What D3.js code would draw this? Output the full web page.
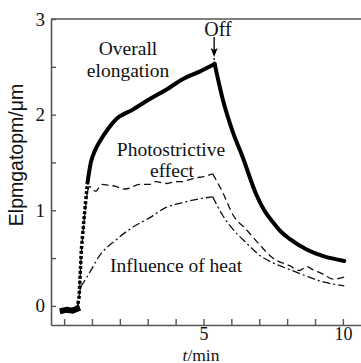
<!DOCTYPE html>
<html>
<head>
<meta charset="utf-8">
<script src="https://cdn.jsdelivr.net/npm/d3@7"></script>
<style>
  html, body { margin: 0; padding: 0; background: #fff; }
  svg { display: block; }
  .serif { font-family: "Liberation Serif", "Times New Roman", serif; fill: #111; }
</style>
</head>
<body>
<svg id="chart" width="361" height="363"></svg>
<script>
// Elongation (µm) versus time (min): overall response, photostrictive part and heat part.
const overallT = [-0.05, 0.1, 0.3, 0.47, 0.54, 0.62, 0.72, 0.84, 0.96, 1.1, 1.3, 1.6, 1.86, 2.45, 3.06, 3.66, 4.25, 4.86, 5.4, 5.7, 6.05, 6.4, 6.9, 7.2, 7.48, 7.8, 8.09, 8.7, 9.3, 10.05];
const overallV = [-0.05, -0.04, -0.05, -0.03, 0.1, 0.59, 0.93, 1.29, 1.5, 1.62, 1.73, 1.86, 1.95, 2.05, 2.16, 2.26, 2.37, 2.45, 2.53, 2.15, 1.82, 1.56, 1.16, 0.99, 0.88, 0.77, 0.7, 0.59, 0.52, 0.47];

const photoT = [0.47, 0.54, 0.62, 0.72, 0.84, 0.92, 1.0, 1.12, 1.37, 1.6, 1.86, 2.1, 2.34, 2.7, 3.06, 3.3, 3.66, 4.0, 4.25, 4.5, 4.74, 4.97, 5.33, 5.7, 6.06, 6.53, 7.01, 7.49, 8.09, 8.45, 8.7, 8.92, 9.3, 9.65, 10.05];
const photoV = [-0.03, 0.1, 0.55, 0.9, 1.2, 1.25, 1.22, 1.2, 1.27, 1.26, 1.25, 1.22, 1.23, 1.27, 1.27, 1.3, 1.28, 1.3, 1.3, 1.32, 1.34, 1.35, 1.38, 1.18, 0.95, 0.8, 0.64, 0.5, 0.42, 0.37, 0.41, 0.38, 0.33, 0.28, 0.30];

const heatT = [0.47, 0.54, 0.6, 0.9, 1.26, 1.86, 2.45, 3.06, 3.66, 4.25, 4.86, 5.33, 5.7, 6.06, 6.53, 7.01, 7.49, 8.09, 8.7, 9.3, 10.05];
const heatV = [-0.03, 0.12, 0.2, 0.34, 0.52, 0.69, 0.82, 0.92, 1.03, 1.08, 1.12, 1.14, 0.94, 0.8, 0.66, 0.53, 0.45, 0.38, 0.31, 0.25, 0.21];

const xTicks = [0, 1, 2, 3, 4, 5, 6, 7, 8, 9, 10];
const xTickLabels = { 5: "5", 10: "10" };
const yTicks = [0, 0.5, 1, 1.5, 2, 2.5, 3];
const yTickLabels = { 0: "0", 1: "1", 2: "2", 3: "3" };
const offTime = 5.4;

const svg = d3.select("#chart");
const x = d3.scaleLinear().domain([-0.47, 10.65]).range([51, 361]);
const y = d3.scaleLinear().domain([-0.2, 3]).range([325, 19]);

const axisColor = "#555";

// axes with inward ticks
const gx = svg.append("g").attr("transform", `translate(0,${y(-0.2)})`)
  .call(d3.axisBottom(x).tickValues(xTicks).tickSizeInner(-6).tickSizeOuter(0).tickPadding(2.5)
    .tickFormat(d => xTickLabels[d] || ""));
const gy = svg.append("g").attr("transform", `translate(${x(-0.47)},0)`)
  .call(d3.axisLeft(y).tickValues(yTicks).tickSizeInner(-5).tickSizeOuter(0).tickPadding(6)
    .tickFormat(d => yTickLabels[d] || ""));
[gx, gy].forEach(g => {
  g.select(".domain").attr("stroke", axisColor).attr("stroke-width", 1.6);
  g.selectAll(".tick line").attr("stroke", axisColor).attr("stroke-width", 1.4);
  g.selectAll(".tick text").attr("class", "serif").attr("fill", "#111");
});
gx.selectAll(".tick text").attr("font-size", 18);
gy.selectAll(".tick text").attr("font-size", 19);
// top frame line
svg.append("line").attr("x1", x(-0.47)).attr("x2", x(10.65)).attr("y1", y(3)).attr("y2", y(3))
  .attr("stroke", axisColor).attr("stroke-width", 1.6);

// draw a series piece by piece (split at given times) so the switch-off peak stays sharp
function pieces(ts, vs, cuts) {
  const idx = d3.range(ts.length);
  const bounds = [-Infinity, ...cuts, Infinity];
  const out = [];
  for (let k = 0; k < bounds.length - 1; k++) {
    out.push(idx.filter(i => ts[i] >= bounds[k] && ts[i] <= bounds[k + 1]));
  }
  return out;
}
const pathOf = (ts, vs, ids, curve) =>
  d3.line().curve(curve).x(i => x(ts[i])).y(i => y(vs[i]))(ids);

// heat contribution (dash-dot)
pieces(heatT, heatV, [0.6, 5.33]).forEach(ids => {
  svg.append("path").attr("d", pathOf(heatT, heatV, ids, d3.curveMonotoneX)).attr("fill", "none")
    .attr("stroke", "#111").attr("stroke-width", 1.3).attr("stroke-dasharray", "8,3,2,3");
});
// photostrictive contribution (dashed)
pieces(photoT, photoV, [0.84, 5.33]).forEach(ids => {
  svg.append("path").attr("d", pathOf(photoT, photoV, ids, d3.curveMonotoneX)).attr("fill", "none")
    .attr("stroke", "#111").attr("stroke-width", 1.3).attr("stroke-dasharray", "7,4");
});

// overall elongation: baseline blob, dotted steep rise, thick solid remainder
const [base, rise, grow, decay] = pieces(overallT, overallV, [0.47, 0.84, offTime]);
svg.append("path").attr("d", pathOf(overallT, overallV, base, d3.curveLinear)).attr("fill", "none")
  .attr("stroke", "#000").attr("stroke-width", 6).attr("stroke-linecap", "square");
svg.append("path").attr("d", pathOf(overallT, overallV, rise, d3.curveLinear)).attr("fill", "none")
  .attr("stroke", "#000").attr("stroke-width", 3.5).attr("stroke-dasharray", "3,2");
[grow, decay].forEach(ids => {
  svg.append("path").attr("d", pathOf(overallT, overallV, ids, d3.curveMonotoneX)).attr("fill", "none")
    .attr("stroke", "#000").attr("stroke-width", 4).attr("stroke-linecap", "round");
});

// "Off" marker with arrow
const peakV = overallV[overallT.indexOf(offTime)];
const ax = x(offTime) - 0.5;
svg.append("line").attr("x1", ax).attr("x2", ax).attr("y1", 37).attr("y2", 50)
  .attr("stroke", "#000").attr("stroke-width", 1.3);
svg.append("path").attr("d", `M${ax - 3.5},48 L${ax},57 L${ax + 3.5},48 L${ax},50 Z`).attr("fill", "#000");
svg.append("line").attr("x1", ax).attr("x2", ax).attr("y1", 58).attr("y2", y(peakV) - 2)
  .attr("stroke", "#000").attr("stroke-width", 1.3).attr("stroke-dasharray", "2,1.5");
svg.append("text").attr("class", "serif").attr("x", 218).attr("y", 36)
  .attr("text-anchor", "middle").attr("font-size", 20).text("Off");

// annotations
const ann = [
  { t: "Overall", cx: 128, by: 55, a: "middle" },
  { t: "elongation", cx: 128, by: 77, a: "middle" },
  { t: "Photostrictive", cx: 171, by: 156, a: "middle" },
  { t: "effect", cx: 172, by: 177, a: "middle" },
  { t: "Influence of heat", cx: 110, by: 272, a: "start" }
];
ann.forEach(d => svg.append("text").attr("class", "serif").attr("x", d.cx).attr("y", d.by)
  .attr("text-anchor", d.a).attr("font-size", 19.5).text(d.t));

// axis titles
const xt = svg.append("text").attr("class", "serif").attr("x", 201).attr("y", 360.5)
  .attr("text-anchor", "middle").attr("font-size", 17.5);
xt.append("tspan").attr("font-style", "italic").text("t");
xt.append("tspan").text("/min");

svg.append("text").attr("transform", "translate(23,155) rotate(-90)")
  .attr("text-anchor", "middle").attr("font-family", "'Liberation Sans', Arial, sans-serif")
  .attr("font-size", 19.5).attr("fill", "#111").text("Elpmgatopm/μm");
</script>
</body>
</html>
